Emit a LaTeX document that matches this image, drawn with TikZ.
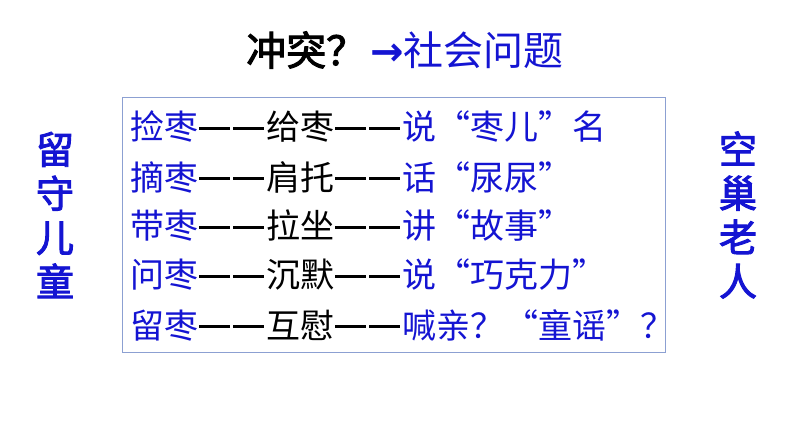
\documentclass[tikz,border=0pt]{standalone}
\usepackage{fontspec}
\newfontfamily\cjk{Noto Sans CJK SC}
\newfontfamily\cjkb[FakeBold=2.5]{Noto Sans CJK SC}
\newfontfamily\sym{DejaVu Sans}
\definecolor{bl}{RGB}{20,20,210}
\definecolor{bd}{RGB}{140,160,210}
\newcommand{\dd}{\color{black}\hspace{1pt}\rule[0.3em]{31pt}{3pt}\hspace{3pt}\rule[0.3em]{31pt}{3pt}\hspace{2pt}}
\begin{document}
\begin{tikzpicture}[x=1pt,y=-1pt,
  row/.style={anchor=west,inner sep=0pt,font=\fontsize{34}{36}\cjk},
  vert/.style={inner sep=0pt,text=bl,font=\fontsize{38}{44}\cjkb,align=center}]
\useasboundingbox (0,0) rectangle (794,447);
\node[inner sep=0pt,font=\fontsize{40}{44}\cjkb] (t) at (405,50) {冲突？\hspace{4pt}{\color{bl}\sym\bfseries →}{\color{bl}\cjk 社会问题}};
\draw[bd,line width=0.8pt] (122,97) rectangle (665,352);
\node[row] (r1) at (130,127) {\color{bl}捡枣\dd 给枣\dd\color{bl}说“枣儿”名};
\node[row] (r2) at (130,177) {\color{bl}摘枣\dd 肩托\dd\color{bl}话“尿尿”};
\node[row] (r3) at (130,226) {\color{bl}带枣\dd 拉坐\dd\color{bl}讲“故事”};
\node[row] (r4) at (130,275) {\color{bl}问枣\dd 沉默\dd\color{bl}说“巧克力”};
\node[row] (r5) at (130,325) {\color{bl}留枣\dd 互慰\dd\color{bl}喊亲？“童谣”？};
\node[vert] (l) at (55,215) {留\\守\\儿\\童};
\node[vert] (r) at (738,215) {空\\巢\\老\\人};
\end{tikzpicture}
\end{document}
